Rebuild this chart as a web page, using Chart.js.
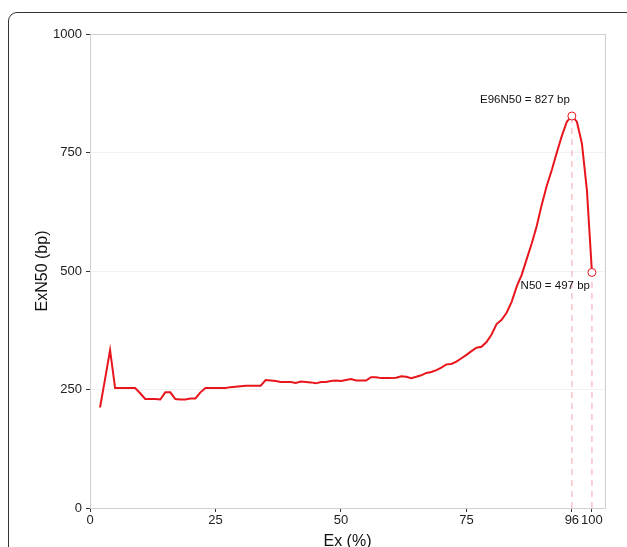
<!DOCTYPE html>
<html>
<head>
<meta charset="utf-8">
<script src="https://cdn.jsdelivr.net/npm/chart.js@4"></script>
<style>
  html, body { margin: 0; padding: 0; background: #fff; overflow: hidden; }
  body { width: 627px; height: 547px; position: relative; }
  #frame { position: absolute; left: 8px; top: 12px; width: 700px; height: 600px;
           border: 1.5px solid #333; border-radius: 9px; box-sizing: border-box; }
  #wrap { position: absolute; left: 0; top: 0; width: 627px; height: 560px; }
</style>
</head>
<body>
<div id="frame"></div>
<div id="wrap"><canvas id="c" width="627" height="560"></canvas></div>
<script>
const exPct = [2, 3, 4, 5, 6, 7, 8, 9, 10, 11, 12, 13, 14, 15, 16, 17, 18, 19, 20, 21,
  22, 23, 24, 25, 26, 27, 28, 29, 30, 31, 32, 33, 34, 35, 36, 37, 38, 39, 40, 41,
  42, 43, 44, 45, 46, 47, 48, 49, 50, 51, 52, 53, 54, 55, 56, 57, 58, 59, 60, 61,
  62, 63, 64, 65, 66, 67, 68, 69, 70, 71, 72, 73, 74, 75, 76, 77, 78, 79, 80, 81,
  82, 83, 84, 85, 86, 87, 88, 89, 90, 91, 92, 93, 94, 95, 96, 97, 98, 99, 100];
const exN50 = [212, 272, 333, 253, 253, 253, 253, 253, 242, 230, 230, 230, 229, 244, 244, 230, 229, 229, 231, 231,
  244, 253, 253, 253, 253, 253, 255, 256, 257, 258, 258, 258, 258, 270, 269, 268, 266, 266, 266, 264,
  267, 266, 265, 263, 266, 266, 268, 269, 268, 270, 272, 269, 269, 269, 276, 276, 274, 274, 274, 275,
  278, 277, 274, 277, 280, 285, 287, 291, 296, 303, 304, 309, 316, 323, 331, 338, 340, 350, 366, 388,
  397, 412, 435, 467, 492, 525, 558, 595, 640, 680, 713, 750, 785, 815, 827, 815, 769, 670, 497];

const markX = [96, 100];
const markY = [827, 497];
const markText = ["E96N50 = 827 bp", "N50 = 497 bp"];

const xTicks = [0, 25, 50, 75, 96, 100];
const yTicks = [0, 250, 500, 750, 1000];

const red = "#e8161c";
const pink = "#f6b3bc";
const font = "'Liberation Sans', Arial, sans-serif";

const dropLines = markX.map((x, i) => ({
  type: "line",
  data: [{ x: x, y: 0 }, { x: x, y: markY[i] }],
  borderColor: pink,
  borderWidth: 1.2,
  borderDash: [6, 5],
  pointRadius: 0,
  order: 3
}));

const frame = {
  id: "frame",
  afterDraw(chart) {
    const a = chart.chartArea, ctx = chart.ctx;
    ctx.save();
    ctx.strokeStyle = "#cfcfcf";
    ctx.lineWidth = 1;
    ctx.beginPath();
    ctx.moveTo(a.right + 0.5, a.top);
    ctx.lineTo(a.right + 0.5, a.bottom);
    ctx.stroke();
    ctx.restore();
  }
};

const labels = {
  id: "labels",
  afterDatasetsDraw(chart) {
    const ctx = chart.ctx, xs = chart.scales.x, ys = chart.scales.y;
    ctx.save();
    ctx.font = "11.5px " + font;
    ctx.fillStyle = "#111";
    ctx.textAlign = "right";
    ctx.textBaseline = "middle";
    const dy = [-16, 13];
    markX.forEach((x, i) => {
      ctx.fillText(markText[i], xs.getPixelForValue(x) - 2, ys.getPixelForValue(markY[i]) + dy[i]);
    });
    ctx.restore();
  }
};

new Chart(document.getElementById("c"), {
  type: "line",
  data: {
    datasets: [
      {
        data: exPct.map((x, i) => ({ x: x, y: exN50[i] })),
        borderColor: red,
        borderWidth: 2,
        pointRadius: 0,
        tension: 0,
        order: 2
      },
      {
        type: "scatter",
        data: markX.map((x, i) => ({ x: x, y: markY[i] })),
        pointRadius: 4,
        pointBackgroundColor: "#fff",
        pointBorderColor: red,
        pointBorderWidth: 1,
        order: 1
      },
      ...dropLines
    ]
  },
  options: {
    responsive: false,
    animation: false,
    layout: { padding: { top: 34, right: 22, left: 0, bottom: 0 } },
    plugins: { legend: { display: false }, tooltip: { enabled: false } },
    scales: {
      x: {
        type: "linear",
        min: 0,
        max: 102.6,
        afterBuildTicks: s => { s.ticks = xTicks.map(v => ({ value: v })); },
        afterFit: s => { s.height = 52; },
        grid: { drawOnChartArea: false, drawTicks: true, tickLength: 4, tickColor: "#333" },
        border: { color: "#cfcfcf" },
        ticks: { font: { family: font, size: 13 }, color: "#222", padding: 1, maxRotation: 0, autoSkip: false,
                 callback: v => String(v) },
        title: { display: true, text: "Ex (%)", font: { family: font, size: 16 }, color: "#111", padding: { top: 0, bottom: 9 } }
      },
      y: {
        min: 0,
        max: 1000,
        afterBuildTicks: s => { s.ticks = yTicks.map(v => ({ value: v })); },
        afterFit: s => { s.width = 90; },
        grid: {
          color: c => (c.tick && (c.tick.value === 1000 || c.tick.value === 0)) ? "#cfcfcf" : "#f1f1f1",
          drawTicks: true, tickLength: 4, tickColor: "#333"
        },
        border: { color: "#cfcfcf" },
        ticks: { font: { family: font, size: 13 }, color: "#222", padding: 4, callback: v => String(v) },
        title: { display: true, text: "ExN50 (bp)", font: { family: font, size: 16 }, color: "#111", padding: { top: 33, bottom: 0 } }
      }
    }
  },
  plugins: [frame, labels]
});
</script>
</body>
</html>
